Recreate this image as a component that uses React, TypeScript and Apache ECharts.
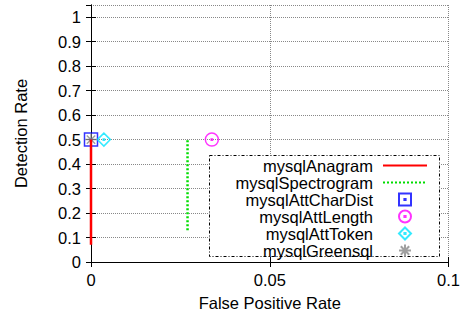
import React, { useEffect, useRef } from "react";
import * as echarts from "echarts";

const seriesNames = [
  "mysqlAnagram",
  "mysqlSpectrogram",
  "mysqlAttCharDist",
  "mysqlAttLength",
  "mysqlAttToken",
  "mysqlGreensql",
];
const anagramFpr = [0, 0];
const anagramDet = [0.07, 0.5];
const spectroFpr = [0.027, 0.027];
const spectroDet = [0.13, 0.5];
const charDistPt = [0, 0.5];
const lengthPt = [0.0338, 0.5];
const tokenPt = [0.0036, 0.5];
const greensqlPt = [0, 0.5];

const FONT = "'Liberation Sans', Arial, Helvetica, sans-serif";

const DOT = " M5.4,5.4H6.6V6.6H5.4Z";
const SQUARE = "path://M0,0H12V12H0Z" + DOT;
const CIRCLE = "path://M6,0A6,6,0,1,1,6,12A6,6,0,1,1,6,0Z" + DOT;
const DIAMOND = "path://M6,0L12,6L6,12L0,6Z" + DOT;
const STAR = "path://M6,0V12M0,6H12M1.8,1.8L10.2,10.2M10.2,1.8L1.8,10.2";

function pts(xs: number[], ys: number[]) {
  return xs.map((x, i) => [x, ys[i]]);
}

export default function App() {
  const ref = useRef<HTMLDivElement>(null);
  useEffect(() => {
    if (!ref.current) return;
    const chart = echarts.init(ref.current, undefined, { renderer: "svg" });
    const axisLine = { show: true, lineStyle: { color: "#000", width: 1 } };
    const tick = { show: true, inside: true, length: 5, lineStyle: { color: "#000" } };
    const grid = { show: true, lineStyle: { color: "#888", type: "dotted" as const, width: 1 } };
    const scatterStyle = (c: string) => ({
      color: "rgba(0,0,0,0)",
      borderColor: c,
      borderWidth: 1.5,
    });
    const hiddenSym = { color: "rgba(0,0,0,0)", borderColor: "rgba(0,0,0,0)", opacity: 0 };
    chart.setOption({
      animation: false,
      textStyle: { fontFamily: FONT },
      grid: { left: 91, right: 12, top: 5, bottom: 54 },
      xAxis: [
        {
          type: "value",
          min: 0,
          max: 0.1,
          interval: 0.05,
          name: "False Positive Rate",
          nameLocation: "middle",
          nameGap: 32,
          nameTextStyle: { fontSize: 16.5, color: "#000", fontFamily: FONT },
          axisLine,
          axisTick: tick,
          splitLine: grid,
          axisLabel: { fontSize: 16.5, color: "#000", margin: 9, fontFamily: FONT },
        },
        {
          type: "value",
          position: "top",
          min: 0,
          max: 0.1,
          interval: 0.05,
          axisLine,
          axisTick: tick,
          splitLine: { show: false },
          axisLabel: { show: false },
        },
      ],
      yAxis: [
        {
          type: "value",
          min: 0,
          max: 1.05,
          interval: 0.1,
          name: "Detection Rate",
          nameLocation: "middle",
          nameGap: 62,
          nameTextStyle: { fontSize: 16.5, color: "#000", fontFamily: FONT },
          axisLine,
          axisTick: tick,
          splitLine: grid,
          axisLabel: {
            fontSize: 16.5,
            color: "#000",
            margin: 10,
            showMaxLabel: false,
            fontFamily: FONT,
          },
        },
        {
          type: "value",
          position: "right",
          min: 0,
          max: 1.05,
          interval: 0.1,
          axisLine,
          axisTick: tick,
          splitLine: { show: false },
          axisLabel: { show: false },
        },
      ],
      legend: {
        data: [
          { name: seriesNames[0], itemStyle: hiddenSym },
          { name: seriesNames[1], itemStyle: hiddenSym },
          seriesNames[2],
          seriesNames[3],
          seriesNames[4],
          seriesNames[5],
        ],
        orient: "vertical",
        align: "right",
        right: 35,
        top: 157,
        padding: 0,
        itemGap: 0,
        itemWidth: 44,
        itemHeight: 12,
        textStyle: {
          fontSize: 16.5,
          color: "#000",
          lineHeight: 17,
          fontFamily: FONT,
          padding: [0, 5, 0, 0],
        },
        z: 10,
      },
      graphic: [
        {
          type: "rect",
          z: 5,
          shape: { x: 209.5, y: 155.5, width: 230, height: 101 },
          style: { fill: "#fff", stroke: "#000", lineWidth: 1, lineDash: [3, 2, 1, 2] },
        },
      ],
      series: [
        {
          name: seriesNames[0],
          type: "line",
          data: pts(anagramFpr, anagramDet),
          symbol: "none",
          lineStyle: { color: "#ff0000", width: 2.5 },
          itemStyle: { color: "#ff0000" },
        },
        {
          name: seriesNames[1],
          type: "line",
          data: pts(spectroFpr, spectroDet),
          symbol: "none",
          lineStyle: { color: "#00dd00", width: 2.5, type: [2, 2] },
          itemStyle: { color: "#00dd00" },
        },
        {
          name: seriesNames[2],
          type: "scatter",
          data: [charDistPt],
          symbol: SQUARE,
          symbolSize: 13,
          itemStyle: scatterStyle("#0000ff"),
        },
        {
          name: seriesNames[3],
          type: "scatter",
          data: [lengthPt],
          symbol: CIRCLE,
          symbolSize: 13,
          itemStyle: scatterStyle("#ff00ff"),
        },
        {
          name: seriesNames[4],
          type: "scatter",
          data: [tokenPt],
          symbol: DIAMOND,
          symbolSize: 13,
          itemStyle: scatterStyle("#00e5ff"),
        },
        {
          name: seriesNames[5],
          type: "scatter",
          data: [greensqlPt],
          symbol: STAR,
          symbolSize: 12,
          itemStyle: scatterStyle("#888888"),
        },
      ],
    });
    return () => chart.dispose();
  }, []);
  return (
    <div
      ref={ref}
      style={{ position: "fixed", left: 0, top: 0, width: 463, height: 316, background: "#fff" }}
    />
  );
}
